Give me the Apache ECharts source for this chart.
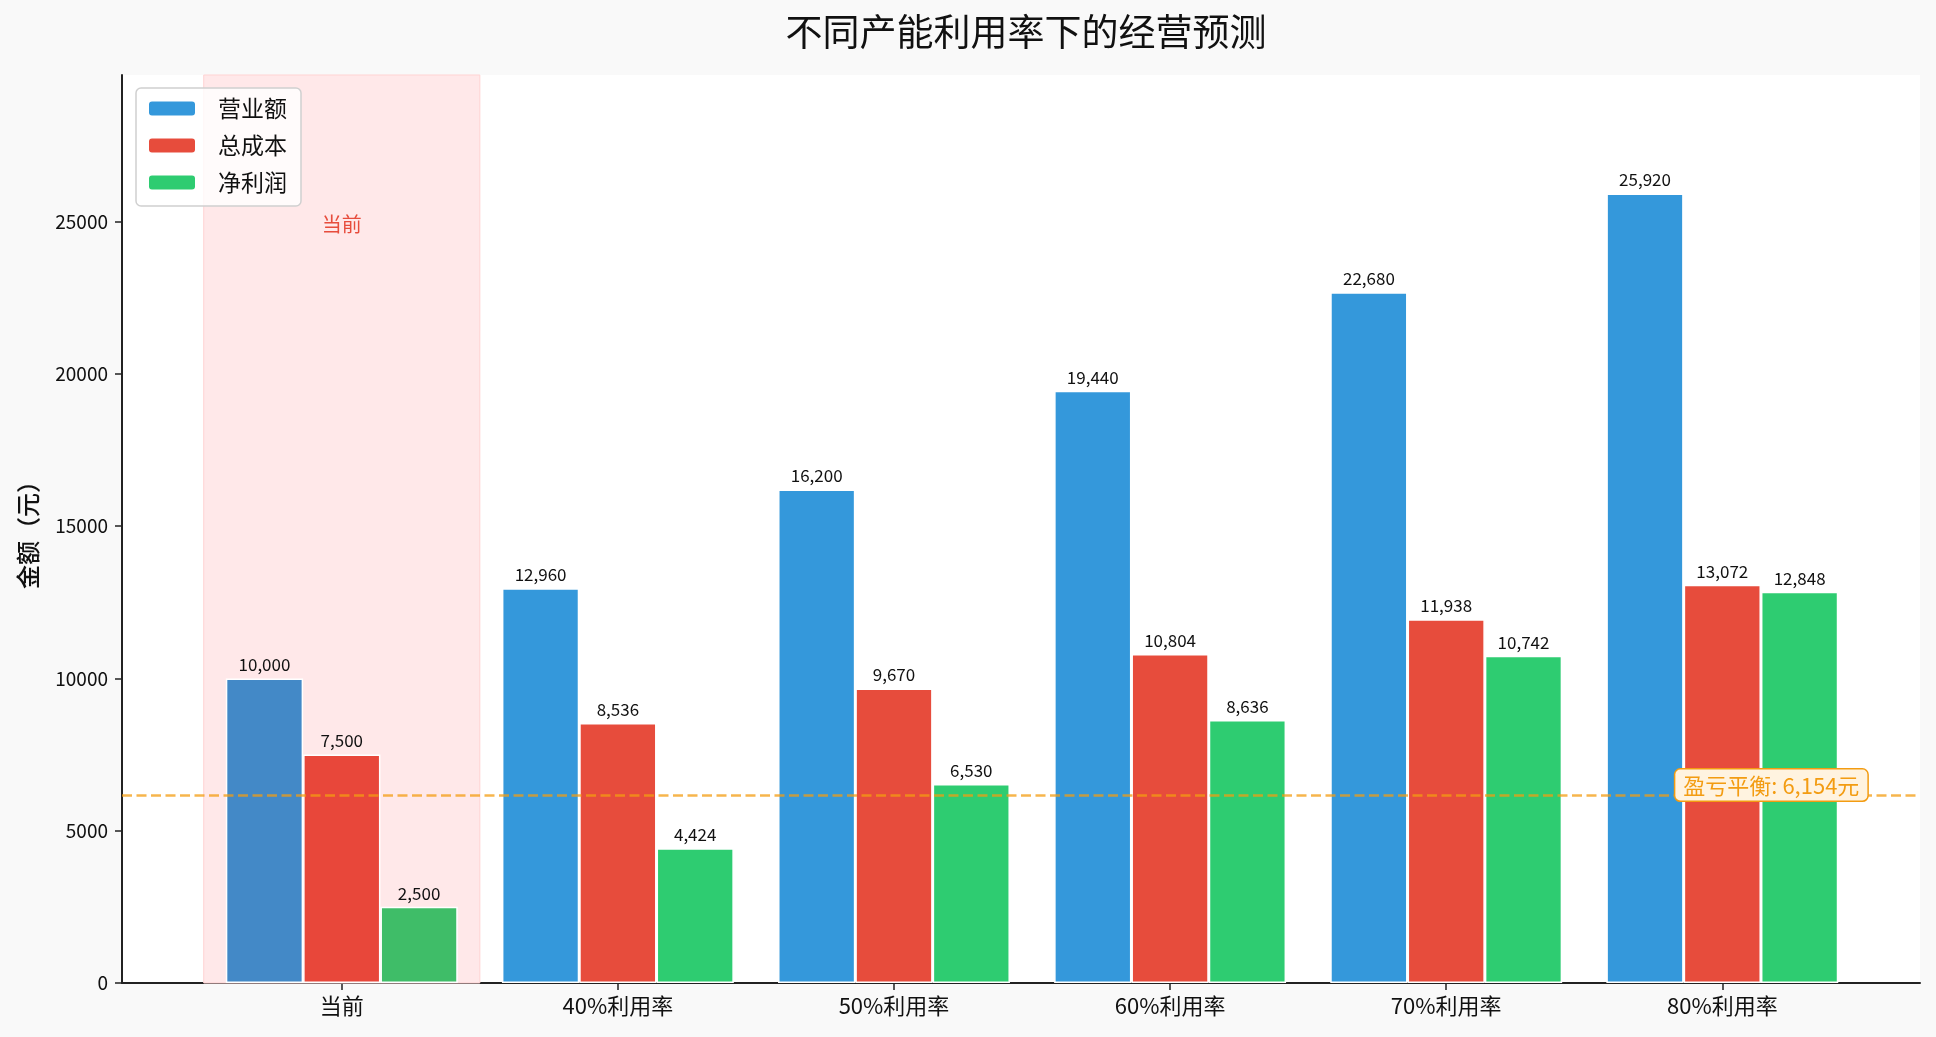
<!DOCTYPE html>
<html>
<head>
<meta charset="utf-8">
<script src="https://cdn.jsdelivr.net/npm/echarts@6/dist/echarts.min.js"></script>
<style>
  html, body { margin: 0; padding: 0; background: #f9f9f9; }
  #main { width: 1936px; height: 1037px; }
</style>
</head>
<body>
<div id="main"></div>
<script>
// 数据
const categories = ['当前', '40%利用率', '50%利用率', '60%利用率', '70%利用率', '80%利用率'];
const revenue    = [10000, 12960, 16200, 19440, 22680, 25920];
const totalCost  = [7500, 8536, 9670, 10804, 11938, 13072];
const netProfit  = [2500, 4424, 6530, 8636, 10742, 12848];
const yTicks     = [0, 5000, 10000, 15000, 20000, 25000];
const yMax       = 29808;
const breakEven  = 6154;
const currentIndex = 0;
const xRange     = [-0.796, 5.716];
const breakEvenLabelX = 5.5;

const FONT = '"Noto Sans CJK SC", "Noto Sans", sans-serif';
const g0 = { left: 122, right: 16, top: 75, bottom: 54 };

const chart = echarts.init(document.getElementById('main'));
const W = chart.getWidth();
const pxPerUnit = (W - g0.left - g0.right) / (xRange[1] - xRange[0]);
const g1 = {
    left: g0.left + (-0.5 - xRange[0]) * pxPerUnit,
    right: g0.right + (xRange[1] - (categories.length - 0.5)) * pxPerUnit,
    top: g0.top, bottom: g0.bottom
};

const fmt = v => v.toLocaleString('en-US');

function barSeries(name, values, color, hlColor) {
    return {
        name, type: 'bar', xAxisIndex: 1, yAxisIndex: 1,
        barWidth: '28%', barGap: '0%', z: 2,
        itemStyle: { color, borderColor: '#fff', borderWidth: 1.5 },
        data: values.map((v, i) => i === currentIndex ? { value: v, itemStyle: { color: hlColor } } : v),
        label: {
            show: true, position: 'top', distance: 5,
            fontFamily: FONT, fontSize: 17, color: '#111',
            formatter: p => fmt(p.value)
        }
    };
}

chart.setOption({
    backgroundColor: '#f9f9f9',
    animation: false,
    title: {
        text: '不同产能利用率下的经营预测',
        left: (g0.left + W - g0.right) / 2, textAlign: 'center', top: 8,
        textStyle: { fontFamily: FONT, fontSize: 37, fontWeight: 'normal', color: '#111' }
    },
    legend: {
        data: ['营业额', '总成本', '净利润'],
        orient: 'vertical', left: 136, top: 88,
        itemWidth: 48, itemHeight: 16, itemGap: 14,
        padding: [9, 14, 12, 11],
        backgroundColor: 'rgba(255,255,255,0.8)',
        borderColor: '#d0d0d0', borderWidth: 1.5, borderRadius: 5,
        textStyle: { fontFamily: FONT, fontSize: 23, color: '#111', padding: [0, 0, 0, 17] },
        selectedMode: false
    },
    grid: [
        { left: g0.left, right: g0.right, top: g0.top, bottom: g0.bottom, show: true, backgroundColor: '#fff', borderWidth: 0 },
        { left: g1.left, right: g1.right, top: g1.top, bottom: g1.bottom }
    ],
    xAxis: [
        {
            type: 'value', gridIndex: 0, min: xRange[0], max: xRange[1],
            axisLine: { show: true, onZero: false, lineStyle: { color: '#222', width: 2 } },
            axisTick: { show: false }, axisLabel: { show: false }, splitLine: { show: false }
        },
        {
            type: 'category', gridIndex: 1, data: categories,
            axisLine: { show: false, onZero: false },
            axisTick: { show: true, alignWithLabel: true, length: 7, lineStyle: { color: '#222', width: 1.5 } },
            axisLabel: { fontFamily: FONT, fontSize: 22, color: '#111', margin: 12 }
        }
    ],
    yAxis: [
        {
            type: 'value', gridIndex: 0, min: 0, max: yMax,
            name: '金额（元）', nameLocation: 'middle', nameGap: 82,
            nameTextStyle: { fontFamily: FONT, fontSize: 24, fontWeight: 500, color: '#111' },
            axisLine: { show: true, onZero: false, lineStyle: { color: '#222', width: 2 } },
            axisTick: { show: true, length: 7, customValues: yTicks, lineStyle: { color: '#222', width: 1.5 } },
            axisLabel: { customValues: yTicks, formatter: v => String(v), fontFamily: FONT, fontSize: 19, color: '#111', margin: 14 },
            splitLine: { show: false }
        },
        { type: 'value', gridIndex: 1, min: 0, max: yMax, show: false, axisLine: { onZero: false } }
    ],
    series: [
        {
            // 当前区间底色与文字
            type: 'line', xAxisIndex: 0, yAxisIndex: 0, data: [], z: 1, silent: true, symbol: 'none',
            markArea: {
                silent: true,
                label: {
                    show: true, position: 'insideTop', distance: 140,
                    fontFamily: FONT, fontSize: 20, color: '#e74c3c'
                },
                itemStyle: { color: '#ffe8e9', borderColor: '#ffd3d3', borderWidth: 1 },
                data: [[{ name: categories[currentIndex], xAxis: currentIndex - 0.5, yAxis: 0 }, { xAxis: currentIndex + 0.5, yAxis: yMax }]]
            }
        },
        {
            // 盈亏平衡线与标注
            type: 'line', xAxisIndex: 0, yAxisIndex: 0, data: [], z: 5, silent: true, symbol: 'none',
            markLine: {
                silent: true, symbol: ['none', 'none'],
                lineStyle: { color: 'rgba(243,156,18,0.75)', type: [10, 4.5], width: 2.7 },
                label: { show: false },
                data: [{ yAxis: breakEven }]
            },
            markPoint: {
                silent: true, symbol: 'circle', symbolSize: 0,
                data: [
                    {
                        coord: [breakEvenLabelX, breakEven],
                        label: {
                            show: true, position: [0, 0], align: 'right', verticalAlign: 'bottom', offset: [7, 5],
                            formatter: '盈亏平衡: ' + fmt(breakEven) + '元',
                            fontFamily: FONT, fontSize: 22, color: '#f39c12',
                            backgroundColor: '#fff3e0', borderColor: '#f39c12', borderWidth: 1.5, borderRadius: 5,
                            padding: [5, 8, 4, 8]
                        }
                    }
                ]
            }
        },
        barSeries('营业额', revenue, '#3498db', '#4389c7'),
        barSeries('总成本', totalCost, '#e74c3c', '#e8473a'),
        barSeries('净利润', netProfit, '#2ecc71', '#3fbd68')
    ]
});
</script>
</body>
</html>
